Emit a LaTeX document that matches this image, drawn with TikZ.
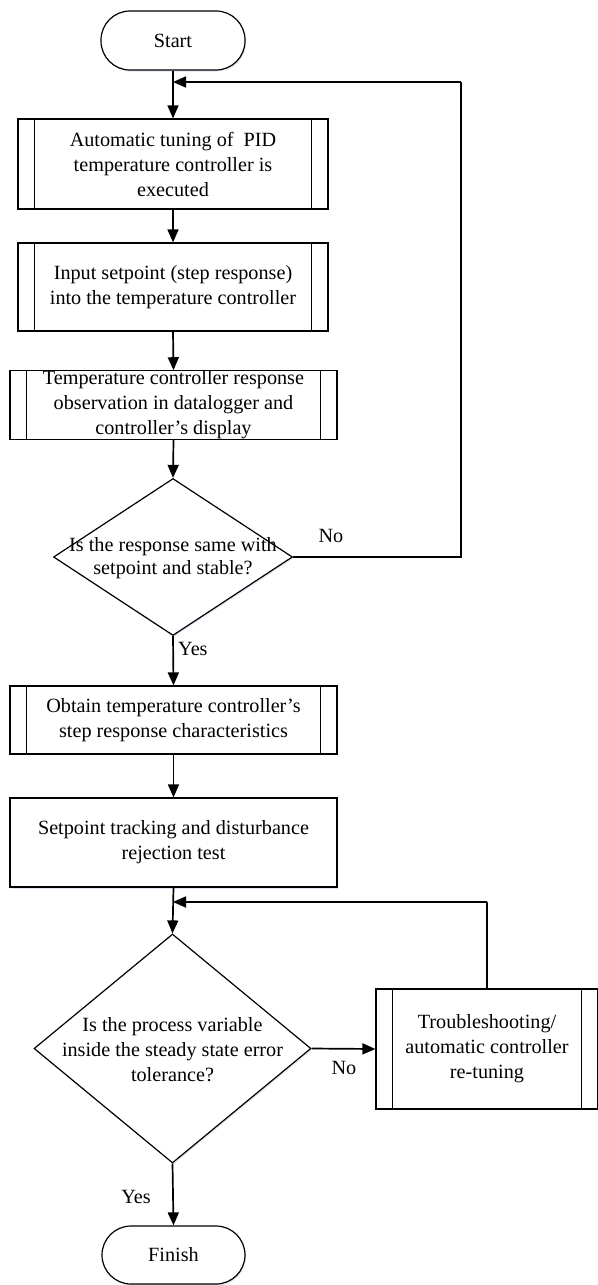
\documentclass[tikz,border=0pt]{standalone}
\usepackage{fontspec}
\setmainfont{Liberation Serif}
\usetikzlibrary{arrows.meta,shapes.geometric,shadows}
\begin{document}
\begin{tikzpicture}[x=1pt,y=-1pt,
  font=\fontsize{20.2}{25}\selectfont,
  softshadow/.style={drop shadow={shadow xshift=1pt, shadow yshift=-1.5pt, fill=blue!40!gray, opacity=0.15}},
  base/.style={draw=black, line width=1.2pt, fill=white, align=center, inner sep=0pt},
  term/.style={base, minimum width=144pt, minimum height=59pt, rounded corners=29pt, softshadow},
  subbox/.style={base},
  decision/.style={base, shape=diamond, softshadow},
  lbl/.style={inner sep=0pt, align=center},
  conn/.style={line width=1.7pt, -{Triangle[length=13pt,width=11pt]}},
  plain/.style={line width=1.7pt},
  sidebar/.style={line width=1.2pt}
]
\useasboundingbox (0,0) rectangle (597,1285);

% nodes
\node[term] (start) at (173,40.5) {Start};
\node[subbox, minimum width=310pt, minimum height=90pt] (b1) at (173,164)
  {Automatic tuning of \ PID\\temperature controller is\\executed};
\node[subbox, minimum width=310pt, minimum height=88pt] (b2) at (173,287)
  {Input setpoint (step response)\\into the temperature controller};
\node[subbox, minimum width=327pt, minimum height=68pt] (b3) at (173.5,405)
  {Temperature controller response\\observation in datalogger and\\controller’s display};
\node[decision, minimum width=239pt, minimum height=157pt] (d1) at (173,557) {};
\node[lbl, font=\fontsize{20.2}{23}\selectfont] (d1t) at (173,558) {Is the response same with\\setpoint and stable?};
\node[lbl] (no1) at (331,536) {No};
\node[lbl, anchor=west] (yes1) at (178,649) {Yes};
\node[subbox, minimum width=327pt, minimum height=68pt] (b4) at (173.5,720)
  {Obtain temperature controller’s\\step response characteristics};
\node[base, softshadow, minimum width=327pt, minimum height=89pt] (b5) at (173.5,842.5)
  {Setpoint tracking and disturbance\\rejection test};
\node[decision, minimum width=277pt, minimum height=229pt] (d2) at (172.5,1048.5) {};
\node[lbl] (d2t) at (172.5,1050) {Is the process variable\\inside the steady state error\\tolerance?};
\node[subbox, minimum width=222pt, minimum height=120pt] (b6) at (487,1049)
  {Troubleshooting/\\automatic controller\\re-tuning};
\node[lbl] (no2) at (344,1068) {No};
\node[lbl] (yes2) at (136,1197) {Yes};
\node[term, minimum width=143pt, minimum height=58pt] (finish) at (173.5,1255) {Finish};

% side bars of subroutine boxes
\foreach \n in {b1,b2,b3,b4,b6}{
  \draw[sidebar] ([xshift=17pt]\n.north west) -- ([xshift=17pt]\n.south west);
  \draw[sidebar] ([xshift=-17pt]\n.north east) -- ([xshift=-17pt]\n.south east);
}

% junction coordinates
\coordinate (j1) at (173,82);
\coordinate (c1a) at (461,557);
\coordinate (c1b) at (461,82);
\coordinate (j2) at (173,902);
\coordinate (c2) at (487,902);

% connectors
\draw[conn] (start.south) -- (b1.north);
\draw[conn] (b1.south) -- (b2.north);
\draw[conn] (b2.south) -- (b3.north);
\draw[conn] (b3.south) -- (d1.north);
\draw[plain] (d1.east) -- (c1a) -- (c1b);
\draw[conn] (c1b) -- (j1);
\draw[conn] (d1.south) -- (b4.north);
\draw[conn] (b4.south) -- (b5.north);
\draw[conn] (b5.south) -- (d2.north);
\draw[plain] (b6.north) -- (c2);
\draw[conn] (c2) -- (j2);
\draw[conn] (d2.east) -- (b6.west);
\draw[conn] (d2.south) -- (finish.north);
\end{tikzpicture}
\end{document}
